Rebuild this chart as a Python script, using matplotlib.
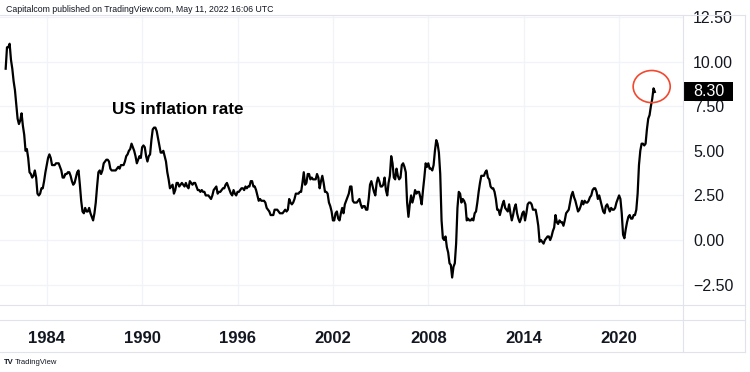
import numpy as np
import matplotlib
matplotlib.use('Agg')
import matplotlib.pyplot as plt
from matplotlib.patches import Ellipse, Rectangle
from matplotlib.lines import Line2D
import matplotlib.transforms as mtransforms
from matplotlib.ticker import FuncFormatter

plt.rcParams['font.family'] = ['Liberation Sans', 'DejaVu Sans']

# US CPI year-on-year, monthly, starting June 1981
start_year, start_month = 1981, 6
cpi_1980s = [9.6, 10.8, 10.8, 11.0, 10.1, 9.6, 8.9,
             8.4, 7.6, 6.8, 6.5, 6.7, 7.1, 6.4, 5.9, 5.0, 5.1, 4.6, 3.8,
             3.7, 3.5, 3.6, 3.9, 3.5, 2.6, 2.5, 2.6, 2.9, 2.9, 3.3, 3.8,
             4.2, 4.6, 4.8, 4.6, 4.2, 4.2, 4.2, 4.3, 4.3, 4.3, 4.1, 3.9,
             3.5, 3.5, 3.7, 3.7, 3.8, 3.8, 3.6, 3.3, 3.1, 3.2, 3.5, 3.8,
             3.9, 3.1, 2.2, 1.6, 1.5, 1.8, 1.6, 1.6, 1.8, 1.5, 1.3, 1.1,
             1.5, 2.1, 3.0, 3.8, 3.9, 3.7, 3.9, 4.3, 4.4, 4.5, 4.5, 4.4,
             4.0, 3.9, 3.9, 3.9, 3.9, 4.0, 4.1, 4.0, 4.2, 4.2, 4.2, 4.4,
             4.7, 4.8, 5.0, 5.1, 5.4, 5.2, 5.0, 4.7, 4.3, 4.5, 4.7, 4.6]
cpi_1990s = [5.2, 5.3, 5.2, 4.7, 4.4, 4.7, 4.8, 5.6, 6.2, 6.3, 6.3, 6.1,
             5.7, 5.3, 4.9, 4.9, 5.0, 4.7, 4.4, 3.8, 3.4, 2.9, 3.0, 3.1,
             2.6, 2.8, 3.2, 3.2, 3.0, 3.1, 3.2, 3.1, 3.0, 3.2, 3.0, 2.9,
             3.3, 3.2, 3.1, 3.2, 3.2, 3.0, 2.8, 2.8, 2.7, 2.8, 2.7, 2.7,
             2.5, 2.5, 2.5, 2.4, 2.3, 2.5, 2.8, 2.9, 3.0, 2.6, 2.7, 2.7,
             2.8, 2.9, 2.9, 3.1, 3.2, 3.0, 2.8, 2.6, 2.5, 2.8, 2.6, 2.5,
             2.7, 2.7, 2.8, 2.9, 2.9, 2.8, 3.0, 2.9, 3.0, 3.0, 3.3, 3.3,
             3.0, 3.0, 2.8, 2.5, 2.2, 2.3, 2.2, 2.2, 2.2, 2.1, 1.8, 1.7,
             1.6, 1.4, 1.4, 1.4, 1.7, 1.7, 1.7, 1.6, 1.5, 1.5, 1.5, 1.6,
             1.7, 1.6, 1.7, 2.3, 2.1, 2.0, 2.1, 2.3, 2.6, 2.6, 2.6, 2.7]
cpi_2000s = [2.7, 3.2, 3.8, 3.1, 3.2, 3.7, 3.7, 3.4, 3.5, 3.4, 3.4, 3.4,
             3.7, 3.5, 2.9, 3.3, 3.6, 3.2, 2.7, 2.7, 2.6, 2.1, 1.9, 1.6,
             1.1, 1.1, 1.5, 1.6, 1.2, 1.1, 1.5, 1.8, 1.5, 2.0, 2.2, 2.4,
             2.6, 3.0, 3.0, 2.2, 2.1, 2.1, 2.1, 2.2, 2.3, 2.0, 1.8, 1.9,
             1.9, 1.7, 1.7, 2.3, 3.1, 3.3, 3.0, 2.7, 2.5, 3.2, 3.5, 3.3,
             3.0, 3.0, 3.1, 3.5, 2.8, 2.5, 3.2, 3.6, 4.7, 4.3, 3.5, 3.4,
             4.0, 3.6, 3.4, 3.5, 4.2, 4.3, 4.1, 3.8, 2.1, 1.3, 2.0, 2.5,
             2.1, 2.4, 2.8, 2.6, 2.7, 2.7, 2.4, 2.0, 2.8, 3.5, 4.3, 4.1,
             4.3, 4.0, 4.0, 3.9, 4.2, 5.0, 5.6, 5.4, 4.9, 3.7, 1.1, 0.1,
             0.0, 0.2, -0.4, -0.7, -1.3, -1.4, -2.1, -1.5, -1.3, -0.2, 1.8, 2.7]
cpi_2010s = [2.6, 2.1, 2.3, 2.2, 2.0, 1.1, 1.2, 1.1, 1.1, 1.2, 1.1, 1.5,
             1.6, 2.1, 2.7, 3.2, 3.6, 3.6, 3.6, 3.8, 3.9, 3.5, 3.4, 3.0,
             2.9, 2.9, 2.7, 2.3, 1.7, 1.7, 1.4, 1.7, 2.0, 2.2, 1.8, 1.7,
             1.6, 2.0, 1.5, 1.1, 1.4, 1.8, 2.0, 1.5, 1.2, 1.0, 1.2, 1.5,
             1.6, 1.1, 1.5, 2.0, 2.1, 2.1, 2.0, 1.7, 1.7, 1.7, 1.3, 0.8,
             -0.1, 0.0, -0.1, -0.2, 0.0, 0.1, 0.2, 0.2, 0.0, 0.2, 0.5, 0.7,
             1.4, 1.0, 0.9, 1.1, 1.0, 1.0, 0.8, 1.1, 1.5, 1.6, 1.7, 2.1,
             2.5, 2.7, 2.4, 2.2, 1.9, 1.6, 1.7, 1.9, 2.2, 2.0, 2.2, 2.1,
             2.1, 2.2, 2.4, 2.5, 2.8, 2.9, 2.9, 2.7, 2.3, 2.5, 2.2, 1.9,
             1.6, 1.5, 1.9, 2.0, 1.8, 1.6, 1.8, 1.7, 1.7, 1.8, 2.1, 2.3]
cpi_2020s = [2.5, 2.3, 1.5, 0.3, 0.1, 0.6, 1.0, 1.3, 1.4, 1.2, 1.2, 1.4,
             1.4, 1.7, 2.6, 4.2, 5.0, 5.4, 5.4, 5.3, 5.4, 6.2, 6.8, 7.0,
             7.5, 7.9, 8.5, 8.3]

year_ticks = [1984, 1990, 1996, 2002, 2008, 2014, 2020]
value_ticks = [-2.5, 0.0, 2.5, 5.0, 7.5, 10.0, 12.5]
title = 'US inflation rate'
header = 'Capitalcom published on TradingView.com, May 11, 2022 16:06 UTC'

values = np.array(cpi_1980s + cpi_1990s + cpi_2000s + cpi_2010s + cpi_2020s)
t = start_year + (start_month - 1) / 12.0 + np.arange(len(values)) / 12.0

W, H = 750, 372
fig = plt.figure(figsize=(W / 100, H / 100), dpi=100)
fig.patch.set_facecolor('white')

def fx(px):
    return px / W

def fy(py):
    return 1 - py / H

top_px, bot_px, right_px = 15, 305, 683
ax = fig.add_axes([0, fy(bot_px), fx(right_px), (bot_px - top_px) / H])
ax.plot(t, values, color='black', lw=1.6, solid_joinstyle='round')
ax.set_xlim(1981.06, 2024.02)
ax.set_ylim(-3.64, 12.61)

ax.set_xticks(year_ticks)
ax.set_xticklabels([str(y) for y in year_ticks], fontsize=12, fontweight='bold', color='#131722')
ax.set_yticks(value_ticks)
ax.yaxis.set_major_formatter(FuncFormatter(lambda v, p: f'{v:.2f}'.replace('-', '\u2212')))
ax.yaxis.tick_right()
ax.tick_params(axis='y', length=0, pad=7.2, labelsize=11.5, labelcolor='#131722')
ax.tick_params(axis='x', length=0, pad=19)
ax.grid(True, color='#f0f3fa', lw=0.9)
ax.set_axisbelow(True)
for s in ax.spines.values():
    s.set_visible(False)

# red circle around the latest reading
ell = Ellipse((t[-1] - 0.2, values[-1] + 0.3), 2.33, 1.8, fill=False,
              edgecolor='#f2482f', lw=1.2, clip_on=False, zorder=5)
ax.add_patch(ell)

# last-value box on the price scale
blend = mtransforms.blended_transform_factory(ax.transAxes, ax.transData)
ax.add_patch(Rectangle((1.0, values[-1] - 0.53), 50 / right_px, 1.07, transform=blend,
                       facecolor='black', edgecolor='none', clip_on=False, zorder=6))
ax.text(1.0 + 10 / right_px, values[-1], f'{values[-1]:.2f}', transform=blend,
        color='white', fontsize=11.5, va='center', ha='left', zorder=7)

fig.text(fx(112), fy(114), title, fontsize=12.3, fontweight='bold', color='black', va='baseline')

# chart frame lines
lc = '#e0e3eb'
for py in [top_px, bot_px, 320, 352]:
    fig.add_artist(Line2D([0, fx(745)], [fy(py), fy(py)], color=lc, lw=0.8))
for px in [right_px, 745]:
    fig.add_artist(Line2D([fx(px), fx(px)], [fy(top_px), fy(352)], color=lc, lw=0.8))

fig.text(fx(6), fy(10), header, fontsize=6.3, color='#131722', va='center')
fig.text(fx(4), fy(362), 'TV', fontsize=5.5, fontweight='bold', color='#131722', va='center')
fig.text(fx(15), fy(362), 'TradingView', fontsize=5.5, color='#131722', va='center')

fig.savefig('out.png', dpi=100, facecolor='white')
